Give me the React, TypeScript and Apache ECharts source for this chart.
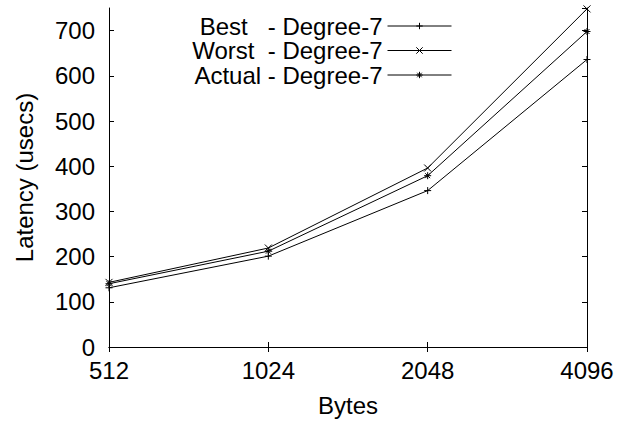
import React, { useEffect, useRef } from "react";
import * as echarts from "echarts";

const categories = ["512", "1024", "2048", "4096"];
const bestValues = [131, 201, 346, 636];
const worstValues = [143, 219, 396, 748];
const actualValues = [140, 212, 379, 698];
const seriesNames = ["Best   - Degree-7", "Worst  - Degree-7", "Actual - Degree-7"];

const FONT = "Liberation Sans, Arial, Helvetica, sans-serif";
const PLUS = "path://M5,0L5,10M0,5L10,5";
const CROSS = "path://M0,0L10,10M0,10L10,0";
const STAR = "path://M5,0L5,10M0,5L10,5M1.5,1.5L8.5,8.5M1.5,8.5L8.5,1.5";

export default function App() {
  const ref = useRef<HTMLDivElement>(null);
  useEffect(() => {
    if (!ref.current) return;
    const chart = echarts.init(ref.current, null, { renderer: "svg" });
    const axisCommon = {
      axisLine: { show: true, lineStyle: { color: "#000", width: 1 } },
      axisTick: { show: true, inside: true, length: 5, lineStyle: { color: "#000" } },
      splitLine: { show: false },
    };
    const mkSeries = (name: string, data: number[], symbol: string) => ({
      name,
      type: "line",
      data,
      symbol,
      symbolSize: 7,
      showSymbol: true,
      lineStyle: { color: "#000", width: 1 },
      itemStyle: { color: "#000", borderColor: "#000", borderWidth: 1 },
      xAxisIndex: 0,
      yAxisIndex: 0,
    });
    chart.setOption({
      animation: false,
      backgroundColor: "#fff",
      textStyle: { fontFamily: FONT, color: "#000" },
      grid: { left: 109, top: 8, right: 39, bottom: 76, containLabel: false },
      legend: {
        orient: "vertical",
        align: "right",
        right: 174,
        top: 14,
        padding: 0,
        itemGap: 0.5,
        itemWidth: 64,
        itemHeight: 8,
        lineStyle: { width: 1, color: "#000" },
        itemStyle: { borderWidth: 1, borderColor: "#000" },
        textStyle: { fontFamily: FONT, fontSize: 24, color: "#000", lineHeight: 24 },
        data: seriesNames,
      },
      xAxis: [
        {
          type: "category",
          data: categories,
          boundaryGap: false,
          position: "bottom",
          name: "Bytes",
          nameLocation: "middle",
          nameGap: 46,
          nameTextStyle: { fontFamily: FONT, fontSize: 24, color: "#000" },
          axisLabel: { fontFamily: FONT, fontSize: 24, color: "#000", margin: 11 },
          ...axisCommon,
        },
        {
          type: "category",
          data: categories,
          boundaryGap: false,
          position: "top",
          axisLabel: { show: false },
          ...axisCommon,
        },
      ],
      yAxis: [
        {
          type: "value",
          min: 0,
          max: 750,
          interval: 100,
          position: "left",
          name: "Latency (usecs)",
          nameLocation: "middle",
          nameGap: 73,
          nameTextStyle: { fontFamily: FONT, fontSize: 24, color: "#000" },
          axisLabel: { fontFamily: FONT, fontSize: 24, color: "#000", margin: 14, showMaxLabel: false },
          ...axisCommon,
        },
        {
          type: "value",
          min: 0,
          max: 750,
          interval: 100,
          position: "right",
          axisLabel: { show: false },
          ...axisCommon,
        },
      ],
      series: [
        mkSeries(seriesNames[0], bestValues, PLUS),
        mkSeries(seriesNames[1], worstValues, CROSS),
        mkSeries(seriesNames[2], actualValues, STAR),
      ],
    });
    return () => chart.dispose();
  }, []);
  return (
    <div
      ref={ref}
      style={{ position: "absolute", left: 0, top: 0, width: 626, height: 423 }}
    />
  );
}
